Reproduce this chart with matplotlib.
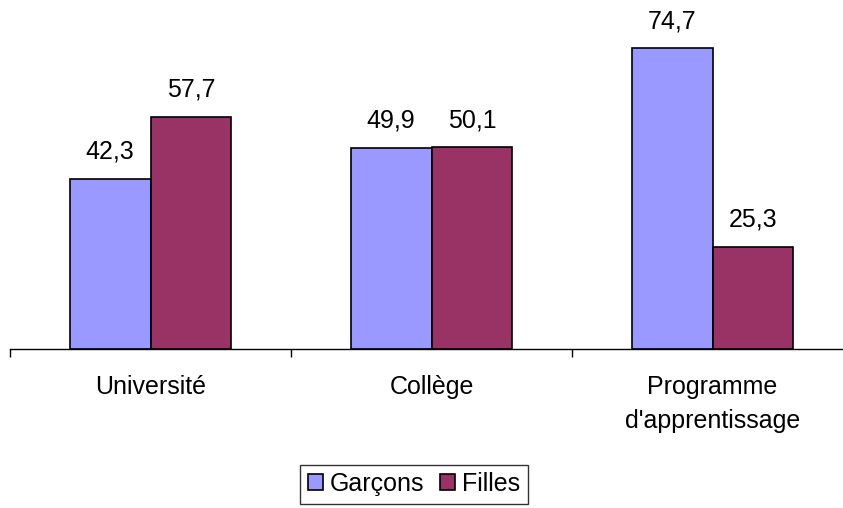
import numpy as np
import matplotlib.pyplot as plt

plt.rcParams['font.family'] = ['Liberation Sans', 'DejaVu Sans']

categories = ["Université", "Collège", "Programme\nd'apprentissage"]
garcons = [42.3, 49.9, 74.7]
filles = [57.7, 50.1, 25.3]

fig = plt.figure(figsize=(8.43, 5.08), dpi=100)
ax = fig.add_axes([10/843, 159/508, 1.0, 322/508])

x = np.arange(len(categories))
w = 0.288
b1 = ax.bar(x - w/2, garcons, w, color='#9999FF', edgecolor='black', linewidth=1.2, label='Garçons')
b2 = ax.bar(x + w/2, filles, w, color='#993366', edgecolor='black', linewidth=1.2, label='Filles')

for bars in (b1, b2):
    ax.bar_label(bars, labels=[f"{v:.1f}".replace('.', ',') for v in bars.datavalues],
                 padding=11, fontsize=18, clip_on=False)

ax.set_xlim(-0.5, 2.5)
ax.set_ylim(0, 80)
for s in ['top', 'right', 'left']:
    ax.spines[s].set_visible(False)
ax.spines['bottom'].set_linewidth(1.0)
ax.set_yticks([])
ax.set_xticks(x)
ax.set_xticklabels(categories, fontsize=18, linespacing=1.5, va='top')
ax.tick_params(axis='x', which='major', length=0, pad=19)
ax.set_xticks([-0.5, 0.5, 1.5, 2.5], minor=True)
ax.tick_params(axis='x', which='minor', length=6, width=1.0, direction='out')

fig.legend(loc='center', bbox_to_anchor=(414/843, 24/508), ncol=2, fontsize=18,
           frameon=True, fancybox=False, edgecolor='black', handlelength=0.6,
           handleheight=0.6, handletextpad=0.3, columnspacing=0.6, borderpad=0.3)

fig.savefig('out.png', dpi=100)
